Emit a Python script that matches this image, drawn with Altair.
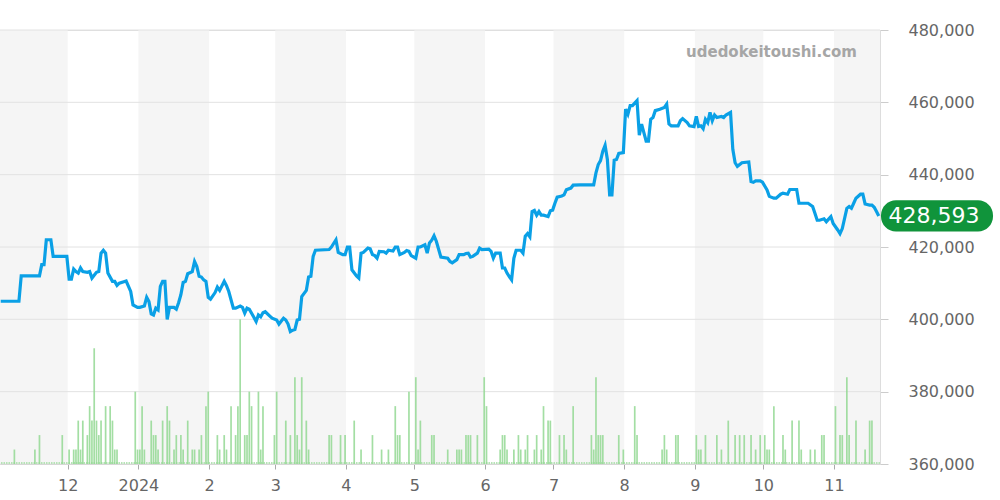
import altair as alt
import pandas as pd

# ---- data ----
START = "2023-11-01"  # day 0 (JST dates)

LINE_DAYS = [1, 9, 10, 18, 19, 20, 21, 23, 24, 30, 31, 32, 33, 34, 35, 36, 37, 39, 40, 41, 43, 44, 45, 46, 47, 48,
             50, 51, 52, 53, 55, 56, 58, 59, 61, 62, 64, 65, 66, 67, 68, 69, 70, 71, 72, 73, 74, 75, 77, 78, 79, 80,
             81, 82, 83, 85, 86, 87, 88, 89, 90, 91, 92, 93, 95, 96, 97, 99, 100, 101, 103, 104, 106, 107, 108, 109,
             110, 112, 113, 114, 115, 116, 117, 119, 120, 122, 123, 125, 126, 127, 128, 129, 130, 131, 132, 133, 135,
             136, 137, 138, 139, 145, 146, 148, 149, 151, 152, 153, 154, 155, 157, 158, 159, 160, 162, 163, 164, 165,
             166, 167, 169, 170, 171, 173, 174, 175, 176, 178, 179, 180, 181, 183, 184, 185, 187, 188, 189, 190, 191,
             192, 194, 197, 198, 199, 201, 202, 204, 205, 206, 207, 208, 210, 211, 212, 215, 216, 217, 218, 220, 221,
             222, 223, 224, 225, 226, 227, 229, 230, 231, 232, 233, 234, 235, 236, 237, 238, 239, 241, 242, 243, 244,
             245, 247, 248, 249, 251, 252, 255, 261, 262, 263, 264, 265, 266, 267, 268, 269, 270, 271, 272, 274, 275,
             276, 277, 278, 279, 280, 281, 282, 283, 284, 285, 286, 287, 288, 290, 292, 293, 294, 295, 298, 299, 300,
             302, 303, 305, 306, 307, 308, 309, 310, 311, 312, 313, 314, 315, 317, 318, 319, 321, 322, 323, 324, 326,
             329, 330, 331, 332, 334, 335, 337, 338, 340, 341, 343, 344, 346, 347, 350, 351, 355, 357, 358, 359, 360,
             362, 363, 365, 366, 368, 369, 370, 372, 373, 374, 375, 376, 378, 379, 380, 382, 383, 384, 385, 386]
LINE_PRICES = [405000, 405000, 412000, 412000, 415100, 415100, 422000, 422000, 417400, 417400, 411100, 411100,
               413900, 413200, 412800, 414200, 413200, 413000, 413200, 411400, 413000, 413200, 418300, 419100,
               418300, 412800, 410500, 410500, 409400, 410000, 410400, 410600, 407700, 404000, 403300, 403300,
               403700, 406100, 404900, 401500, 401200, 403100, 402600, 409100, 410500, 410500, 400000, 403300,
               403300, 402800, 404600, 406800, 410200, 410500, 412600, 413200, 416000, 414600, 411900, 411700,
               410900, 410500, 406100, 405600, 407400, 408900, 408000, 410500, 409300, 407700, 403100, 403100,
               403700, 403300, 401700, 403100, 402800, 400600, 399400, 401200, 400700, 401800, 402100, 400900,
               400300, 399800, 398700, 400300, 399800, 398700, 396600, 397000, 397200, 399800, 400000, 406300,
               408000, 411700, 411900, 417400, 419100, 419300, 420000, 422000, 418500, 417900, 417900, 420000,
               420000, 413700, 412000, 411400, 418300, 418500, 419700, 419500, 417900, 417600, 416900, 418800,
               418700, 418300, 419100, 418900, 420000, 420000, 417900, 418500, 419000, 418800, 417600, 416900,
               420000, 420000, 420600, 418300, 421100, 421900, 423100, 421600, 417200, 416900, 416000, 415600,
               416500, 417900, 417900, 418200, 418300, 417200, 417400, 418300, 419700, 419300, 419400, 418800,
               416900, 418300, 418300, 414200, 414200, 412800, 411800, 410900, 416900, 419100, 419100, 418300,
               423000, 423700, 422800, 429800, 430100, 428800, 429800, 428800, 428800, 428400, 430000, 430200,
               432100, 433800, 434100, 434400, 435800, 436300, 437100, 437200, 437200, 440500, 442800, 443900,
               446500, 448100, 444200, 434400, 434400, 444000, 444200, 445900, 446100, 458100, 456700, 459100,
               459100, 459800, 460500, 450900, 454000, 451600, 449300, 449300, 455300, 455800, 457700, 458100,
               458600, 459500, 454000, 453500, 453500, 454900, 455500, 454400, 453500, 453300, 456100, 453300,
               453500, 452700, 455300, 454400, 457200, 454900, 456500, 455800, 456100, 455800, 456500, 457200,
               447000, 443300, 442300, 443300, 443500, 438100, 437900, 438300, 438300, 437900, 435800, 434000,
               433500, 433500, 434600, 434900, 434600, 435900, 435900, 432100, 432100, 431200, 429300, 427400,
               427400, 427800, 427000, 428400, 426500, 424700, 423700, 425100, 430700, 431200, 430700, 432100,
               433500, 434600, 434600, 431900, 431600, 431600, 431000, 429800, 428593]

VOL_DAYS = [7, 16, 18, 28, 31, 33, 34, 35, 36, 37, 39, 40, 41, 42, 43, 44, 45, 47, 49, 50, 51, 52, 60, 61, 62, 63,
            64, 67, 68, 69, 70, 72, 74, 75, 77, 78, 80, 81, 83, 85, 86, 88, 89, 91, 92, 96, 97, 99, 100, 102, 104,
            105, 106, 108, 109, 110, 111, 114, 115, 116, 121, 122, 126, 128, 130, 131, 132, 133, 135, 136, 145, 146,
            150, 152, 156, 159, 164, 168, 171, 174, 175, 176, 180, 183, 184, 185, 190, 191, 197, 201, 202, 203, 205,
            206, 207, 210, 213, 214, 220, 221, 222, 223, 226, 228, 229, 231, 232, 235, 236, 238, 239, 241, 242, 246,
            248, 249, 252, 260, 261, 262, 263, 264, 265, 272, 274, 279, 280, 291, 292, 293, 297, 298, 306, 307, 308,
            310, 315, 317, 320, 323, 325, 327, 330, 332, 334, 336, 337, 338, 340, 344, 345, 348, 351, 352, 356, 358,
            361, 362, 367, 369, 370, 372, 373, 376, 380, 382, 383]
VOL_COUNTS = [1, 1, 2, 2, 1, 1, 1, 3, 1, 3, 2, 4, 3, 8, 3, 2, 3, 4, 4, 3, 1, 1, 5, 1, 1, 4,
              1, 3, 2, 2, 1, 3, 4, 3, 1, 2, 2, 1, 3, 1, 1, 1, 2, 4, 5, 2, 1, 2, 1, 4, 2,
              4, 10, 2, 2, 5, 4, 5, 1, 4, 2, 5, 3, 2, 6, 2, 1, 6, 3, 1, 2, 2,
              2, 2, 3, 1, 2, 1, 1, 4, 2, 2, 5, 6, 1, 3, 2, 2, 1, 1, 1, 1, 2,
              2, 2, 2, 6, 4, 1, 2, 2, 1, 1, 2, 1, 1, 2, 1, 2, 1, 4, 3, 3, 2,
              2, 1, 4, 2, 1, 6, 2, 2, 2, 2, 1, 4, 2, 1, 2, 1, 2, 2, 2, 1, 1,
              2, 2, 1, 3, 2, 2, 2, 2, 1, 2, 2, 1, 1, 4, 2, 1, 3, 3, 1, 1, 1,
              2, 2, 4, 2, 2, 6, 2, 3, 1, 3, 3]

Y_TICKS = [360000, 380000, 400000, 420000, 440000, 460000, 480000]
MONTH_STARTS = ["2023-11-01", "2023-12-01", "2024-01-01", "2024-02-01", "2024-03-01", "2024-04-01",
                "2024-05-01", "2024-06-01", "2024-07-01", "2024-08-01", "2024-09-01", "2024-10-01",
                "2024-11-01", "2024-12-01"]
WATERMARK = "udedokeitoushi.com"

# ---- build tables ----
base = pd.Timestamp(START)


def jst_day_to_utc(d):
    ts = base + pd.Timedelta(days=d) - pd.Timedelta(hours=9)
    return ts.strftime("%Y-%m-%dT%H:%M:%SZ")


line_df = pd.DataFrame({"t": [jst_day_to_utc(d) for d in LINE_DAYS], "price": LINE_PRICES})
vol_df = pd.DataFrame({"t": [jst_day_to_utc(d) for d in VOL_DAYS], "vol": VOL_COUNTS})
band_df = pd.DataFrame({
    "start": [m + "T00:00:00Z" for m in MONTH_STARTS[:-1]],
    "end": [m + "T00:00:00Z" for m in MONTH_STARTS[1:]],
    "shade": [i % 2 == 0 for i in range(len(MONTH_STARTS) - 1)],
})
band_df = band_df[band_df["shade"]]
grid_df = pd.DataFrame({"y": Y_TICKS})
last_price = LINE_PRICES[-1]
last_df = pd.DataFrame({"t": [line_df["t"].iloc[-1]], "price": [last_price], "label": [f"{last_price:,}"]})

W, H = 880, 434

x_scale = alt.Scale(type="utc", nice=False, padding=0,
                    domain=[alt.DateTime(year=2023, month=11, date=1, hours=7, minutes=40, utc=True),
                            alt.DateTime(year=2024, month=11, date=21, hours=3, minutes=50, utc=True)])
tick_vals = [alt.DateTime(year=int(m[:4]), month=int(m[5:7]), date=1, utc=True) for m in MONTH_STARTS[1:-1]]
x_axis = alt.Axis(values=tick_vals, title=None, grid=False,
                  labelExpr="utcmonth(datum.value) == 0 ? utcyear(datum.value) : utcmonth(datum.value) + 1",
                  labelFontSize=16, labelColor="#666666", labelFont="DejaVu Sans", labelPadding=8,
                  tickColor="#aaaaaa", tickSize=5, domainColor="#cccccc", labelFlush=False)
y_scale = alt.Scale(domain=[360000, 480000], nice=False, zero=False)
y_axis = alt.Axis(orient="right", values=Y_TICKS, labelExpr="format(datum.value, ',')", title=None, grid=False,
                  labelFontSize=16, labelColor="#666666", labelFont="DejaVu Sans", labelPadding=20,
                  tickColor="#cccccc", tickSize=8, domainColor="#dddddd")

bands = alt.Chart(band_df).mark_rect(color="#f5f5f5", clip=True).encode(
    x=alt.X("start:T", scale=x_scale, axis=x_axis),
    x2="end:T",
)

grid = alt.Chart(grid_df).mark_rule(color="#e2e2e2", strokeWidth=1).encode(
    y=alt.Y("y:Q", scale=y_scale, axis=y_axis)
)

baseline = alt.Chart(line_df.head(1)).mark_rule(color="#b5e3b5", strokeWidth=2, strokeDash=[1.5, 1]).encode(
    y=alt.datum(360300)
)

bars = alt.Chart(vol_df).transform_calculate(
    top="360000 + datum.vol * 4000"
).mark_bar(width=1.7, color="#93d893", opacity=0.85).encode(
    x=alt.X("t:T", scale=x_scale, axis=x_axis),
    y=alt.Y("top:Q", scale=y_scale, axis=y_axis),
    y2=alt.datum(360000),
)

line = alt.Chart(line_df).mark_line(color="#0aa0e6", strokeWidth=3.2, interpolate="linear").encode(
    x=alt.X("t:T", scale=x_scale, axis=x_axis),
    y=alt.Y("price:Q", scale=y_scale, axis=y_axis),
)

watermark = alt.Chart(line_df.head(1)).mark_text(
    text=WATERMARK, align="right", baseline="middle", fontSize=15, fontWeight="bold",
    color="#a6a6a6", font="DejaVu Sans"
).encode(x=alt.value(857), y=alt.value(22))

pill = alt.Chart(last_df).transform_calculate(
    lo="datum.price - 4300", hi="datum.price + 4300"
).mark_rect(color="#10943b", cornerRadius=15).encode(
    x=alt.value(881), x2=alt.value(993),
    y=alt.Y("lo:Q", scale=y_scale, axis=y_axis), y2="hi:Q",
)

pill_text = alt.Chart(last_df).mark_text(
    color="white", fontSize=22, font="DejaVu Sans", align="center", baseline="middle"
).encode(
    x=alt.value(934),
    y=alt.Y("price:Q", scale=y_scale, axis=y_axis),
    text="label:N",
)

chart = alt.layer(bands, grid, baseline, bars, line, watermark, pill, pill_text).properties(
    width=W, height=H,
    autosize=alt.AutoSizeParams(type="none"),
    padding={"left": 0, "top": 30, "right": 120, "bottom": 36},
).configure_view(stroke=None).configure(background="white")

chart.save("out.html", embed_options={"renderer": "svg", "actions": False})
